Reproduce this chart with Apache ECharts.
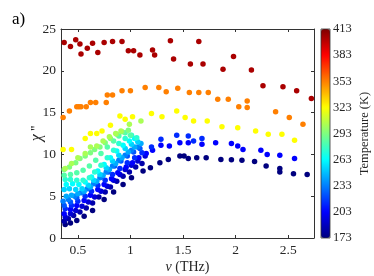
<!DOCTYPE html>
<html><head><meta charset="utf-8">
<script src="https://cdn.jsdelivr.net/npm/echarts@6/dist/echarts.min.js"></script>
<style>html,body{margin:0;padding:0;background:#fff}#c{width:374px;height:276px}</style>
</head><body><div id="c"></div>
<script>
const xTicks = [0.5, 1, 1.5, 2, 2.5];
const yTicks = [0, 5, 10, 15, 20, 25];
const cbTicks = [173, 203, 233, 263, 293, 323, 353, 383, 413];

const t173 = [[0.38,1.6],[0.43,1.8],[0.49,2.1],[0.56,2.6],[0.64,3.3],[0.75,4.6],[0.84,5.5],[0.93,6.4],[1.01,7.2],[1.12,8.0],[1.19,8.4],[1.28,9.0],[1.36,9.4],[1.47,9.8],[1.51,9.8],[1.55,9.5],[1.63,9.6],[1.72,9.6],[1.86,9.4],[1.96,9.35],[2.06,9.3],[2.18,9.15],[2.29,8.6],[2.42,8.3],[2.42,7.9],[2.55,7.7],[2.68,7.6]];
const t183 = [[0.37,2.0],[0.41,2.3],[0.46,2.7],[0.52,3.1],[0.58,3.6],[0.64,4.2],[0.70,4.9],[0.76,5.5],[0.81,6.1],[0.87,6.8],[0.93,7.4],[0.99,7.9],[1.05,8.5],[1.11,8.9]];
const t193 = [[0.38,2.5],[0.43,2.9],[0.48,3.3],[0.54,3.8],[0.60,4.3],[0.66,4.9],[0.72,5.6],[0.78,6.2],[0.84,6.9],[0.90,7.6],[0.95,8.2],[1.01,8.7],[1.07,9.2],[1.14,9.8]];
const t203 = [[0.37,2.9],[0.43,3.4],[0.49,3.9],[0.56,4.5],[0.62,5.1],[0.69,5.8],[0.75,6.4],[0.82,7.1],[0.88,7.8],[0.96,8.5],[1.02,9.0],[1.08,9.6],[1.15,10.1],[1.21,10.5],[1.29,11.1],[1.37,11.0],[1.47,11.4],[1.55,11.4],[1.68,11.2],[1.81,11.4],[1.96,11.3],[2.02,11.0],[2.07,10.6],[2.24,10.5],[2.30,10.0],[2.42,9.9],[2.56,9.5]];
const t213 = [[0.38,3.5],[0.44,3.9],[0.50,4.4],[0.57,5.0],[0.63,5.6],[0.69,6.3],[0.76,6.9],[0.83,7.6],[0.90,8.3],[0.97,9.0],[1.04,9.6],[1.11,10.2],[1.20,10.9],[1.29,11.8],[1.44,12.3],[1.55,12.2],[1.60,11.6],[1.68,11.9]];
const t223 = [[0.37,3.9],[0.43,4.3],[0.49,4.8],[0.55,5.4],[0.61,6.0],[0.67,6.6],[0.73,7.3],[0.79,7.9],[0.85,8.6],[0.91,9.2],[0.97,9.8],[1.03,10.3],[1.09,10.7]];
const t233 = [[0.36,4.4],[0.41,4.6],[0.47,5.0],[0.53,5.4],[0.59,5.9],[0.65,6.5],[0.71,7.2],[0.77,7.9],[0.83,8.6],[0.89,9.3],[0.95,9.9],[1.01,10.5],[1.07,10.9]];
const t243 = [[0.39,5.0],[0.44,5.1],[0.50,5.3],[0.56,5.6],[0.62,6.1],[0.68,6.8],[0.74,7.5],[0.80,8.2],[0.86,8.9],[0.92,9.6],[0.98,10.3],[1.04,10.9],[1.10,11.3]];
const t253 = [[0.37,5.8],[0.42,5.9],[0.48,5.8],[0.54,5.9],[0.60,6.3],[0.65,6.9],[0.71,7.6],[0.77,8.4],[0.83,9.2],[0.89,9.9],[0.95,10.7],[1.01,11.2],[1.07,11.5]];
const t263 = [[0.39,6.4],[0.45,6.5],[0.51,6.4],[0.57,6.7],[0.63,7.3],[0.69,8.0],[0.75,8.8],[0.81,9.6],[0.87,10.4],[0.93,11.1],[0.99,11.6],[1.04,11.9]];
const t273 = [[0.38,7.0],[0.43,7.0],[0.49,6.9],[0.55,6.9],[0.61,7.2],[0.66,7.9],[0.72,8.7],[0.78,9.6],[0.84,10.5],[0.89,11.3],[0.95,11.9],[1.01,12.3],[1.06,12.0]];
const t283 = [[0.37,7.5],[0.43,7.6],[0.49,7.8],[0.55,8.1],[0.61,8.6],[0.67,9.3],[0.72,10.1],[0.78,10.9],[0.84,11.6],[0.89,12.2],[0.95,12.6],[1.00,12.3]];
const t293 = [[0.37,8.2],[0.42,8.5],[0.48,9.0],[0.52,9.5],[0.57,9.8],[0.62,10.2],[0.66,10.6],[0.71,10.9],[0.76,11.4],[0.81,11.9],[0.87,12.4],[0.92,12.7],[0.98,12.9]];
const t303 = [[0.38,8.3],[0.44,8.9],[0.50,9.6],[0.57,10.1],[0.62,10.9],[0.68,11.0],[0.74,11.6],[0.80,12.1],[0.86,12.5],[0.91,12.8],[0.99,13.6],[1.10,14.0]];
const t323 = [[0.36,10.6],[0.44,10.6],[0.57,11.9],[0.62,12.5],[0.68,12.5],[0.73,12.8],[0.81,13.5],[0.90,14.6],[0.95,14.2],[1.02,14.5],[1.20,14.9],[1.30,14.5],[1.44,15.2],[1.52,14.4],[1.60,14.0],[1.73,14.0],[1.87,13.3],[2.02,13.2],[2.19,12.8],[2.31,12.4],[2.44,12.4],[2.56,11.7]];
const t353 = [[0.36,14.4],[0.42,15.2],[0.49,15.7],[0.51,15.7],[0.53,15.7],[0.58,15.7],[0.62,16.2],[0.67,16.2],[0.77,16.2],[0.78,17.1],[0.83,17.1],[0.92,17.6],[1.00,17.6],[1.14,18.0],[1.27,18.0],[1.34,17.5],[1.45,17.9],[1.56,17.4],[1.65,17.4],[1.74,17.4],[1.83,16.6],[1.93,16.6],[2.03,15.7],[2.11,16.4],[2.11,15.6],[2.38,15.1],[2.51,14.4],[2.64,13.6]];
const t403 = [[0.37,23.4],[0.43,22.9],[0.48,23.7],[0.52,23.2],[0.53,22.0],[0.59,22.7],[0.64,23.3],[0.69,22.2],[0.75,23.4],[0.83,23.5],[0.92,23.5],[0.98,22.4],[1.03,22.4],[1.09,21.9],[1.21,22.5],[1.23,21.9],[1.38,23.6],[1.41,21.4],[1.57,20.8],[1.65,23.5],[1.69,20.8],[1.88,20.2],[1.98,21.7],[2.15,20.1],[2.26,18.2],[2.45,18.1],[2.58,17.6],[2.72,16.7]];

const temps = [173,183,193,203,213,223,233,243,253,263,273,283,293,303,323,353,403];
const sets = [t173,t183,t193,t203,t213,t223,t233,t243,t253,t263,t273,t283,t293,t303,t323,t353,t403];

const data = [];
sets.forEach((pts, i) => pts.forEach(p => data.push([p[0], p[1], temps[i]])));

const jet = ['#00007F','#0000FF','#007FFF','#00FFFF','#7FFF7F','#FFFF00','#FF7F00','#FF0000','#7F0000'];
const FF = 'Liberation Serif';
const AX = '#333333';
const TXT = '#262626';

const chart = echarts.init(document.getElementById('c'), null, {renderer: 'canvas'});
chart.setOption({
  animation: false,
  backgroundColor: '#ffffff',
  graphic: [{type: 'text', left: 12, top: 11, style: {text: 'a)', font: '17px "Liberation Serif"', fill: '#000'}}],
  grid: [
    {left: 61, top: 29, width: 253, height: 209, outerBoundsMode: 'none', containLabel: false},
    {left: 321, top: 29, width: 9, height: 209, outerBoundsMode: 'none', containLabel: false, show: true, z: 6, borderColor: '#333', borderWidth: 0.8, backgroundColor: 'transparent'}
  ],
  xAxis: [
    {gridIndex: 0, type: 'value', min: 0.34, max: 2.745,
     axisLine: {show: true, onZero: false, lineStyle: {color: AX, width: 1}},
     axisTick: {show: true, inside: true, length: 3, customValues: xTicks, lineStyle: {color: AX}},
     axisLabel: {customValues: xTicks, color: TXT, fontFamily: FF, fontSize: 13.5, margin: 5},
     splitLine: {show: false},
     name: '{i|ν} (THz)', nameLocation: 'middle', nameGap: 22, nameMoveOverlap: false,
     nameTextStyle: {color: TXT, fontFamily: FF, fontSize: 14, rich: {i: {fontStyle: 'italic', fontFamily: FF, fontSize: 14, color: TXT}}}},
    {gridIndex: 0, type: 'value', position: 'top', min: 0.34, max: 2.745,
     axisLine: {show: true, onZero: false, lineStyle: {color: AX, width: 1}},
     axisTick: {show: true, inside: true, length: 3, customValues: xTicks, lineStyle: {color: AX}},
     axisLabel: {show: false}, splitLine: {show: false}},
    {gridIndex: 1, type: 'value', min: 0, max: 1, show: false}
  ],
  yAxis: [
    {gridIndex: 0, type: 'value', min: 0, max: 25, interval: 5,
     axisLine: {show: true, onZero: false, lineStyle: {color: AX, width: 1}},
     axisTick: {show: true, inside: true, length: 3, lineStyle: {color: AX}},
     axisLabel: {color: TXT, fontFamily: FF, fontSize: 13.5, margin: 5},
     splitLine: {show: false},
     name: "{i|χ} ''", nameLocation: 'middle', nameGap: 16, nameRotate: 90, nameMoveOverlap: false,
     nameTextStyle: {color: TXT, fontFamily: FF, fontSize: 14, rich: {i: {fontStyle: 'italic', fontFamily: FF, fontSize: 16, color: TXT}}}},
    {gridIndex: 0, type: 'value', position: 'right', min: 0, max: 25, interval: 5,
     axisLine: {show: true, onZero: false, lineStyle: {color: AX, width: 1}},
     axisTick: {show: true, inside: true, length: 3, lineStyle: {color: AX}},
     axisLabel: {show: false}, splitLine: {show: false}},
    {gridIndex: 1, type: 'value', position: 'right', min: 173, max: 413,
     axisLine: {show: false},
     axisTick: {show: false, customValues: cbTicks},
     axisLabel: {customValues: cbTicks, color: TXT, fontFamily: FF, fontSize: 12.5, margin: 3},
     splitLine: {show: false},
     name: 'Temperature (K)', nameLocation: 'middle', nameGap: 28, nameRotate: 90, nameMoveOverlap: false,
     nameTextStyle: {color: TXT, fontFamily: FF, fontSize: 12.5}}
  ],
  visualMap: {
    type: 'continuous', min: 173, max: 413, dimension: 2, seriesIndex: 0,
    left: 321, top: 29, itemWidth: 9, itemHeight: 209, padding: 0,
    calculable: false, hoverLink: false, text: null, showLabel: false,
    inRange: {color: jet}
  },
  series: [{
    type: 'scatter', xAxisIndex: 0, yAxisIndex: 0, data: data,
    symbol: 'circle', symbolSize: 5.5, clip: false,
    itemStyle: {opacity: 1}
  }]
});
</script></body></html>
